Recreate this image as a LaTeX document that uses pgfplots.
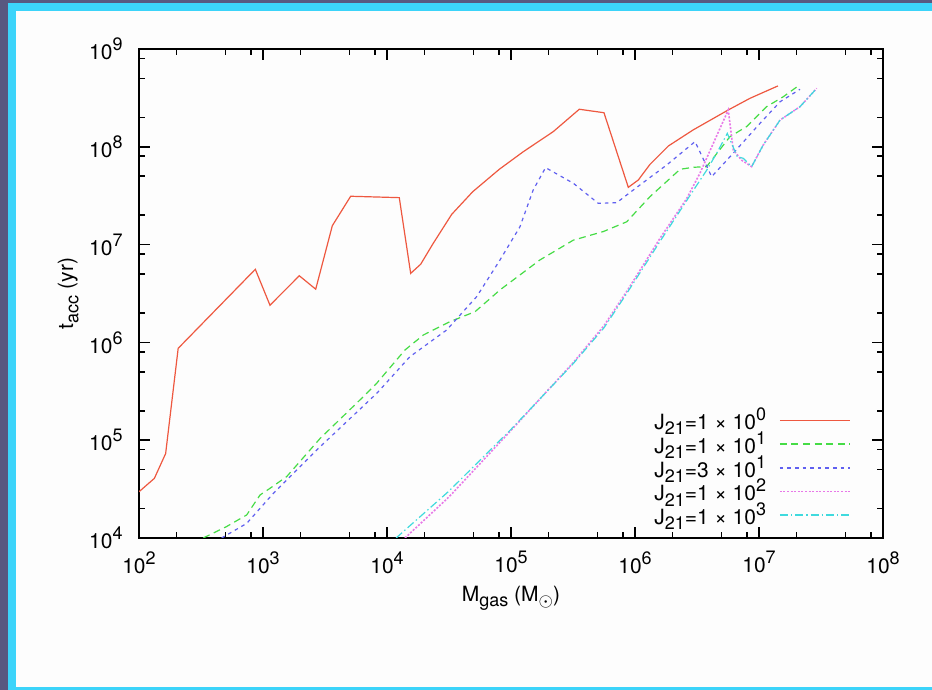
\documentclass[border=0pt]{standalone}
\usepackage{pgfplots}
\pgfplotsset{compat=1.18}
\usepackage{fontspec}
\setmainfont{TeX Gyre Heros}

\definecolor{slideback}{RGB}{88,88,128}
\definecolor{slideframe}{RGB}{60,212,250}
\definecolor{slidewhite}{RGB}{253,253,253}
\definecolor{cRed}{RGB}{238,88,64}
\definecolor{cGreen}{RGB}{70,220,70}
\definecolor{cBlue}{RGB}{96,96,240}
\definecolor{cMag}{RGB}{232,120,232}
\definecolor{cCyan}{RGB}{64,218,222}

% gnuplot-like super- and subscripts
\newcommand{\sps}[1]{\raisebox{4.5pt}{\fontsize{9}{9}\selectfont #1}}
\newcommand{\sbs}[1]{\raisebox{-2.6pt}{\fontsize{9}{9}\selectfont #1}}

\begin{document}
\fontsize{10.5}{12.6}\selectfont
\begin{tikzpicture}[font=\fontsize{10.5}{12.6}\selectfont]
% slide background and frame
\fill[slideback] (0,0) rectangle (466pt,345pt);
\fill[slideframe] (4pt,0pt) rectangle (466pt,343.5pt);
\fill[slidewhite] (8pt,1.5pt) rectangle (466pt,339.5pt);

\begin{axis}[
  at={(69.5pt,76pt)}, anchor=south west,
  scale only axis, width=372pt, height=244.5pt,
  xmode=log, ymode=log,
  xmin=1e2, xmax=1e8, ymin=1e4, ymax=1e9,
  xtick={1e2,1e3,1e4,1e5,1e6,1e7,1e8},
  xticklabels={10\sps{2},10\sps{3},10\sps{4},10\sps{5},10\sps{6},10\sps{7},10\sps{8}},
  ytick={1e4,1e5,1e6,1e7,1e8,1e9},
  yticklabels={10\sps{4},10\sps{5},10\sps{6},10\sps{7},10\sps{8},10\sps{9}},
  minor xtick={200,500,800,2000,5000,8000,2e4,5e4,8e4,2e5,5e5,8e5,2e6,5e6,8e6,2e7,5e7,8e7},
  minor ytick={2e4,5e4,8e4,2e5,5e5,8e5,2e6,5e6,8e6,2e7,5e7,8e7,2e8,5e8,8e8},
  tick align=inside,
  major tick length=5.5pt, minor tick length=3pt,
  tick style={black, line width=0.8pt},
  axis line style={line width=1pt},
  xticklabel style={yshift=-3pt},
  yticklabel style={xshift=-4.5pt},
  xlabel={M\sbs{gas} (M\sbs{$\odot$})},
  ylabel={t\sbs{acc} (yr)},
  xlabel style={at={(axis description cs:0.5,-0.123)}, anchor=center},
  ylabel style={at={(axis description cs:-0.095,0.5)}, anchor=center},
  legend plot pos=right,
  legend cell align=right,
  legend style={draw=none, fill=none, at={(axis description cs:0.965,0.277)}, anchor=north east,
    row sep=-1.6pt, column sep=6pt, nodes={inner sep=0.5pt}},
  legend image code/.code={\draw[#1, line width=0.75pt] (0pt,0pt) -- (35pt,0pt);},
]

% J21 = 1e0
\addplot[color=cRed, line width=0.6pt] coordinates {
(100,2.97e4) (133,4.07e4) (164,7.3e4) (207,8.7e5) (867,5.59e6) (1138,2.4e6)
(1963,4.8e6) (2661,3.5e6) (3623,1.56e7) (5093,3.12e7) (12560,3.02e7) (15520,5.08e6)
(18700,6.3e6) (23600,1.03e7) (33270,2.04e7) (49090,3.47e7) (80500,5.89e7)
(125500,8.9e7) (219300,1.43e8) (355500,2.42e8) (562000,2.23e8) (883000,3.85e7)
(1.064e6,4.58e7) (1.32e6,6.6e7) (1.86e6,1.02e8) (2.95e6,1.49e8) (5.65e6,2.38e8)
(8.45e6,3.13e8) (1.42e7,4.19e8)
};
\addlegendentry{J\sbs{21}=1 × 10\sps{0}}

% J21 = 1e1
\addplot[color=cGreen, line width=0.6pt, dash pattern=on 3.5pt off 2.3pt] coordinates {
(330,1.0e4) (509,1.31e4) (739,1.72e4) (946,2.75e4) (1138,3.22e4) (1552,4.24e4)
(2884,1.04e5) (6053,2.58e5) (8260,3.82e5) (13960,8.36e5) (19640,1.19e6)
(32200,1.63e6) (51300,2.06e6) (81500,3.44e6) (171000,6.96e6) (318000,1.11e7)
(556000,1.36e7) (857000,1.71e7) (1.32e6,3.09e7) (2.31e6,5.89e7) (2.95e6,6.17e7)
(3.78e6,6.27e7) (5.83e6,1.27e8) (7.96e6,1.61e8) (1.15e7,2.57e8) (1.57e7,3.25e8)
(2.07e7,4.19e8)
};
\addlegendentry{J\sbs{21}=1 × 10\sps{1}}

% J21 = 3e1
\addplot[color=cBlue, line width=0.6pt, dash pattern=on 1.8pt off 2pt] coordinates {
(464,1.0e4) (739,1.41e4) (1211,2.86e4) (2711,7.94e4) (8260,3.01e5) (15300,7.14e5)
(30300,1.34e6) (52900,2.94e6) (81500,6.96e6) (118000,1.52e7) (151000,3.62e7)
(190000,6.12e7) (318000,4.24e7) (506000,2.64e7) (711000,2.68e7) (970000,3.62e7)
(1.80e6,6.51e7) (3.05e6,1.13e8) (4.15e6,4.95e7) (6.2e6,8.6e7) (1.02e7,1.74e8)
(1.48e7,2.89e8) (2.14e7,3.87e8)
};
\addlegendentry{J\sbs{21}=3 × 10\sps{1}}

% J21 = 1e2
\addplot[color=cMag, line width=0.8pt, dash pattern=on 1pt off 0.8pt] coordinates {
(13960,1.0e4) (31620,2.63e4) (1e5,1.26e5) (316200,6.17e5) (562000,1.48e6)
(857000,3.31e6) (1.585e6,1.15e7) (2.61e6,2.95e7) (3.34e6,5.37e7) (5.65e6,2.38e8)
(6.2e6,9.3e7) (7.24e6,7.3e7) (8.72e6,6.27e7) (1.08e7,1.04e8) (1.48e7,1.88e8)
(2.14e7,2.57e8) (2.92e7,3.96e8)
};
\addlegendentry{J\sbs{21}=1 × 10\sps{2}}

% J21 = 1e3
\addplot[color=cCyan, line width=0.6pt, dash pattern=on 4pt off 1.5pt on 0.7pt off 1.5pt] coordinates {
(11840,1.0e4) (31620,3.02e4) (1e5,1.29e5) (316200,6.03e5) (562000,1.41e6)
(857000,3.16e6) (1.585e6,1.07e7) (2.61e6,2.82e7) (3.78e6,5.75e7) (4.56e6,8.6e7)
(5.55e6,1.37e8) (6.68e6,7.94e7) (7.47e6,7.62e7) (8.72e6,6.27e7) (1.08e7,1.04e8)
(1.48e7,1.88e8) (2.14e7,2.57e8) (2.92e7,3.96e8)
};
\addlegendentry{J\sbs{21}=1 × 10\sps{3}}

\end{axis}
\end{tikzpicture}
\end{document}
